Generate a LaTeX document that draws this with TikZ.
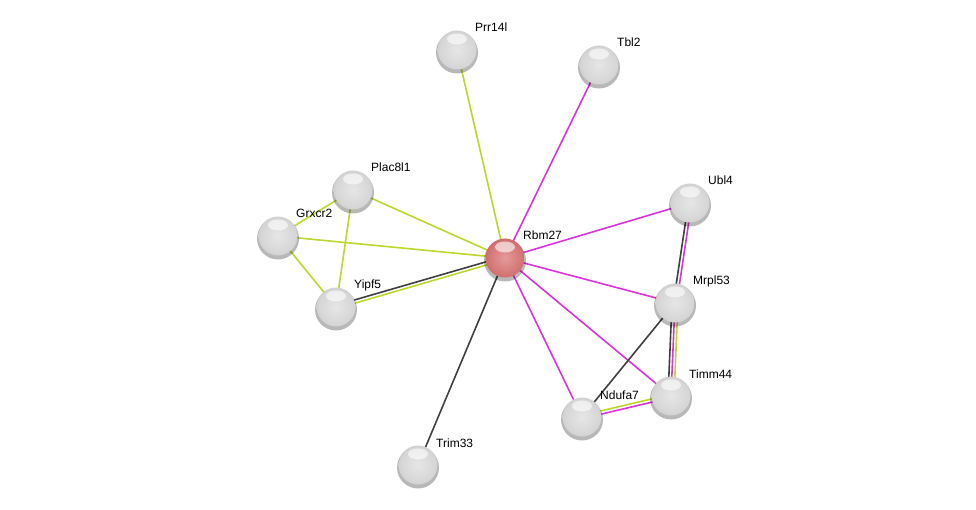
\documentclass[tikz,border=0pt]{standalone}
\usepackage{fontspec}
\setmainfont{Liberation Sans}
\usetikzlibrary{calc}
\pgfdeclarelayer{edges}
\pgfsetlayers{edges,main}
\definecolor{gA}{HTML}{E6E6E6}
\definecolor{gB}{HTML}{D6D6D6}
\definecolor{gC}{HTML}{BCBCBC}
\definecolor{gD}{HTML}{8C8C8C}
\definecolor{gE}{HTML}{626262}
\definecolor{rA}{HTML}{E49A9A}
\definecolor{rB}{HTML}{D47474}
\definecolor{rC}{HTML}{BC5050}
\definecolor{rD}{HTML}{962C2C}
\definecolor{rE}{HTML}{701818}
\definecolor{tmine}{HTML}{BFD62B}
\definecolor{expmt}{HTML}{DD33DD}
\definecolor{coexp}{HTML}{404040}
\pgfdeclareradialshading{greyball}{\pgfpoint{0bp}{0bp}}{color(0bp)=(gA); color(22bp)=(gB); color(38bp)=(gC); color(46bp)=(gD); color(50bp)=(gE)}
\pgfdeclareradialshading{redball}{\pgfpoint{0bp}{0bp}}{color(0bp)=(rA); color(22bp)=(rB); color(38bp)=(rC); color(46bp)=(rD); color(50bp)=(rE)}
\newcommand\protnode[6]{%
  \fill[black,opacity=0.28] (#2,#3+2.5) circle (21);
  \node[prot,shading=#6] (#1) at (#2,#3) {};
  \fill[white,opacity=0.6] ($(#1.center)+(0,-11)$) ellipse (10 and 5.5);
  \node[lbl] (#1-l) at ($(#1.center)+(18,-18)$) {#4};
}
\newcommand\offedge[4]{%
  \draw[#1] ($(#2.center)!#4!90:(#3.center)$) -- ($(#3.center)!#4!-90:(#2.center)$);
}
\begin{document}
\begin{tikzpicture}[x=1pt,y=-1pt,
  prot/.style={circle,minimum size=39pt,inner sep=0pt,draw=none},
  lbl/.style={anchor=base west,inner sep=0pt,font=\fontsize{12}{14}\selectfont},
  edge/.style={line width=1.6pt},
  tm/.style={edge,draw=tmine},
  ex/.style={edge,draw=expmt},
  co/.style={edge,draw=coexp}]
\useasboundingbox (0,0) rectangle (976,510);
\protnode{prr}{457}{50}{Prr14l}{}{greyball}
\protnode{tbl}{599}{65}{Tbl2}{}{greyball}
\protnode{plac}{353}{190}{Plac8l1}{}{greyball}
\protnode{grx}{278}{236}{Grxcr2}{}{greyball}
\protnode{ubl}{690}{203}{Ubl4}{}{greyball}
\protnode{rbm}{505}{258}{Rbm27}{}{redball}
\protnode{yip}{336}{307}{Yipf5}{}{greyball}
\protnode{mrp}{675}{303}{Mrpl53}{}{greyball}
\protnode{tim}{671}{396}{Timm44}{}{greyball}
\protnode{ndu}{582}{417}{Ndufa7}{}{greyball}
\protnode{tri}{418}{465}{Trim33}{}{greyball}
\begin{pgfonlayer}{edges}
\draw[tm] (prr.center) -- (rbm.center);
\draw[ex] (tbl.center) -- (rbm.center);
\draw[tm] (plac.center) -- (rbm.center);
\draw[tm] (grx.center) -- (rbm.center);
\draw[tm] (grx.center) -- (plac.center);
\draw[tm] (grx.center) -- (yip.center);
\draw[tm] (plac.center) -- (yip.center);
\offedge{co}{yip}{rbm}{1.6pt}
\offedge{tm}{yip}{rbm}{-1.6pt}
\draw[co] (tri.center) -- (rbm.center);
\draw[ex] (ubl.center) -- (rbm.center);
\draw[ex] (mrp.center) -- (rbm.center);
\draw[ex] (tim.center) -- (rbm.center);
\draw[ex] (ndu.center) -- (rbm.center);
\offedge{co}{ubl}{mrp}{-1.6pt}
\offedge{ex}{ubl}{mrp}{1.6pt}
\offedge{co}{mrp}{tim}{-3pt}
\offedge{ex}{mrp}{tim}{0pt}
\offedge{tm}{mrp}{tim}{3pt}
\draw[co] (mrp.center) -- (ndu.center);
\offedge{tm}{ndu}{tim}{1.6pt}
\offedge{ex}{ndu}{tim}{-1.6pt}
\end{pgfonlayer}
\end{tikzpicture}
\end{document}
